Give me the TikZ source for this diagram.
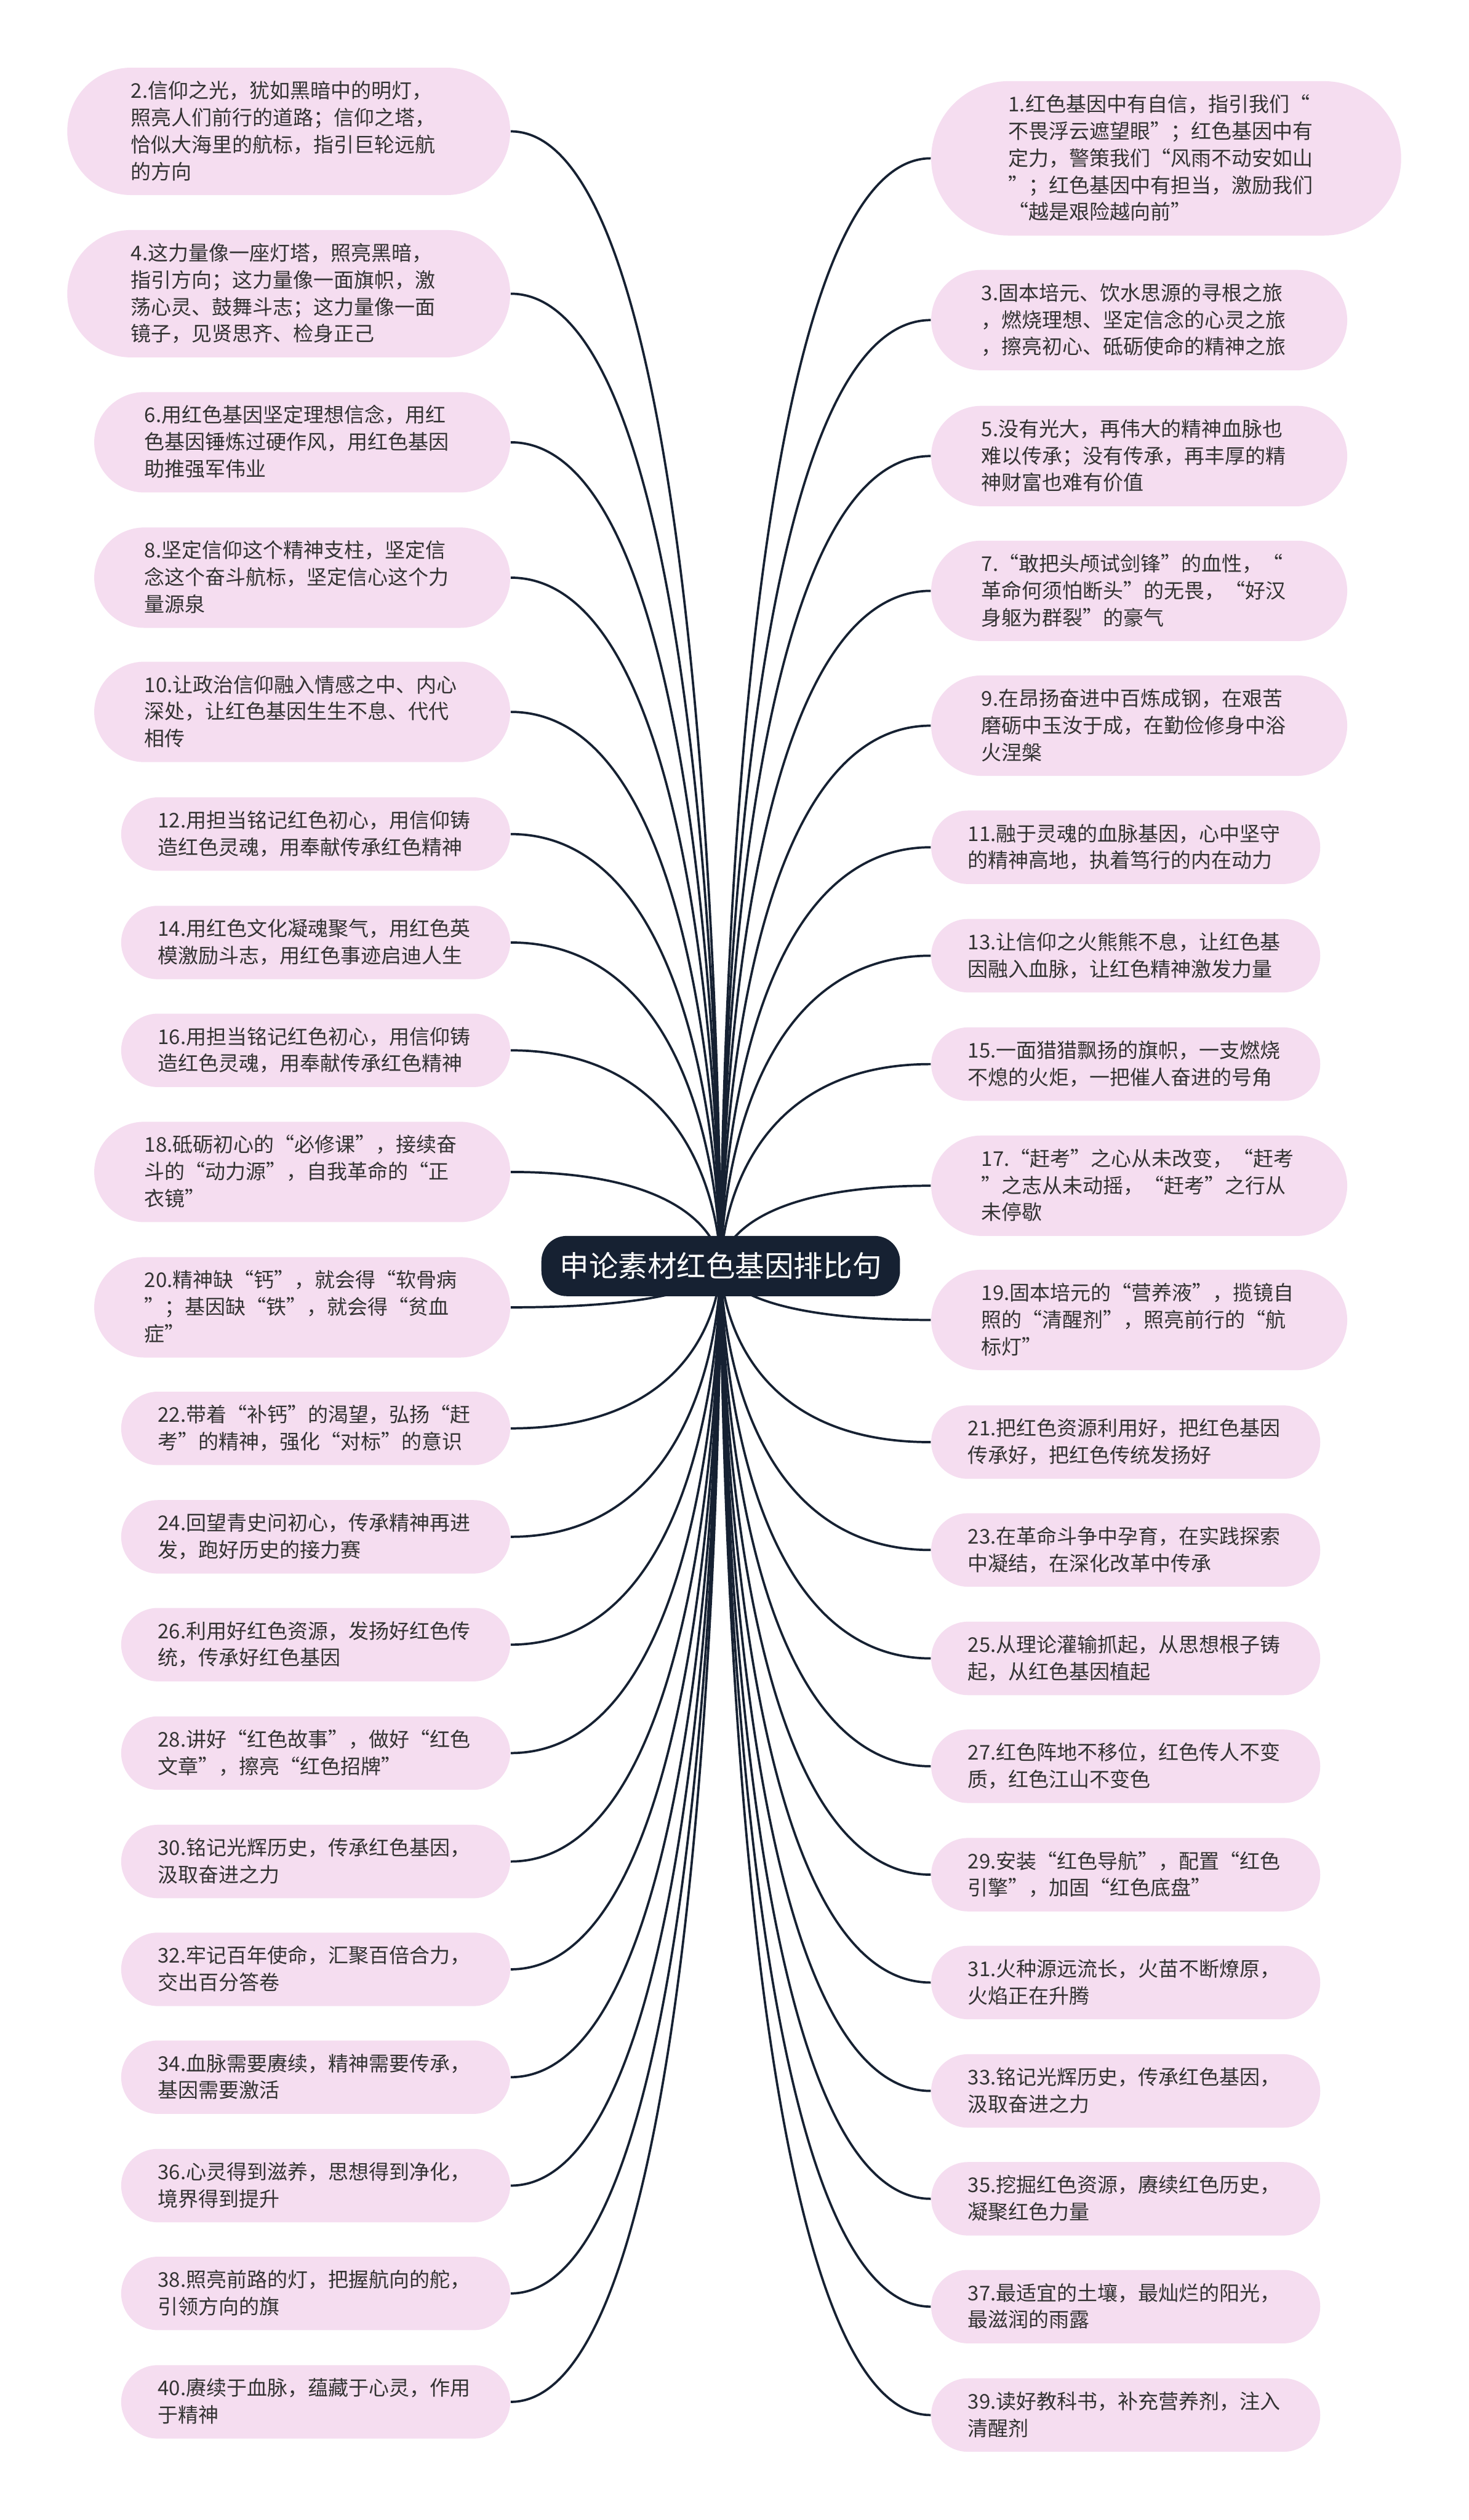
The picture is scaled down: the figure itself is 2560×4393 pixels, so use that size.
\documentclass[tikz,border=0pt]{standalone}
\usepackage{fontspec}
\setmainfont{Noto Sans CJK SC}
\usetikzlibrary{backgrounds}
\definecolor{leafpink}{RGB}{245,221,240}
\definecolor{rootnavy}{RGB}{22,33,50}
\definecolor{leafink}{RGB}{51,51,51}
\newcommand{\leafstrut}{\rule[-2.7pt]{0pt}{11.75pt}}
\tikzset{
  % #1 = half the box height (2 rows 16pt, 3 rows 21.875pt, 4 rows 27.75pt, 5 rows 33.625pt)
  leafbox/.style={rectangle, rounded corners=#1, inner xsep=#1, inner ysep=4.25pt,
    fill=leafpink, text=leafink, text width=137.5pt, align=left,
    font=\fontsize{8.85pt}{11.75pt}\selectfont,
    execute at begin node=\leafstrut, execute at end node=\leafstrut},
  titlebox/.style={rectangle, rounded corners=11pt, fill=rootnavy, text=white,
    minimum width=156.25pt, minimum height=26.25pt, inner sep=0pt,
    font=\fontsize{12.75pt}{15pt}\selectfont},
  branchline/.style={draw=rootnavy, line width=1pt,
    to path={.. controls (\tikztostart) and (\tikztostart |- \tikztotarget) .. (\tikztotarget)}}
}
\begin{document}
\begin{tikzpicture}[x=0.25pt, y=-0.25pt]
        \useasboundingbox (0,0) rectangle (2560,4393);
        % centre topic
        \node[titlebox] (root) at (1256,2207) {申论素材红色基因排比句};
        % left column, even numbers
        \node[leafbox=27.75pt, anchor=east] (s2) at (890,229) {2.信仰之光，犹如黑暗中的明灯，\\照亮人们前行的道路；信仰之塔，\\恰似大海里的航标，指引巨轮远航\\的方向};
        \node[leafbox=27.75pt, anchor=east] (s4) at (890,512) {4.这力量像一座灯塔，照亮黑暗，\\指引方向；这力量像一面旗帜，激\\荡心灵、鼓舞斗志；这力量像一面\\镜子，见贤思齐、检身正己};
        \node[leafbox=21.875pt, anchor=east] (s6) at (890,771) {6.用红色基因坚定理想信念，用红\\色基因锤炼过硬作风，用红色基因\\助推强军伟业};
        \node[leafbox=21.875pt, anchor=east] (s8) at (890,1007) {8.坚定信仰这个精神支柱，坚定信\\念这个奋斗航标，坚定信心这个力\\量源泉};
        \node[leafbox=21.875pt, anchor=east] (s10) at (890,1241) {10.让政治信仰融入情感之中、内心\\深处，让红色基因生生不息、代代\\相传};
        \node[leafbox=16pt, anchor=east] (s12) at (890,1454) {12.用担当铭记红色初心，用信仰铸\\造红色灵魂，用奉献传承红色精神};
        \node[leafbox=16pt, anchor=east] (s14) at (890,1643) {14.用红色文化凝魂聚气，用红色英\\模激励斗志，用红色事迹启迪人生};
        \node[leafbox=16pt, anchor=east] (s16) at (890,1831) {16.用担当铭记红色初心，用信仰铸\\造红色灵魂，用奉献传承红色精神};
        \node[leafbox=21.875pt, anchor=east] (s18) at (890,2043) {18.砥砺初心的“必修课”，接续奋\\斗的“动力源”，自我革命的“正\\衣镜”};
        \node[leafbox=21.875pt, anchor=east] (s20) at (890,2279) {20.精神缺“钙”，就会得“软骨病\\”；基因缺“铁”，就会得“贫血\\症”};
        \node[leafbox=16pt, anchor=east] (s22) at (890,2490) {22.带着“补钙”的渴望，弘扬“赶\\考”的精神，强化“对标”的意识};
        \node[leafbox=16pt, anchor=east] (s24) at (890,2679) {24.回望青史问初心，传承精神再进\\发，跑好历史的接力赛};
        \node[leafbox=16pt, anchor=east] (s26) at (890,2867) {26.利用好红色资源，发扬好红色传\\统，传承好红色基因};
        \node[leafbox=16pt, anchor=east] (s28) at (890,3056) {28.讲好“红色故事”，做好“红色\\文章”，擦亮“红色招牌”};
        \node[leafbox=16pt, anchor=east] (s30) at (890,3245) {30.铭记光辉历史，传承红色基因，\\汲取奋进之力};
        \node[leafbox=16pt, anchor=east] (s32) at (890,3433) {32.牢记百年使命，汇聚百倍合力，\\交出百分答卷};
        \node[leafbox=16pt, anchor=east] (s34) at (890,3621) {34.血脉需要赓续，精神需要传承，\\基因需要激活};
        \node[leafbox=16pt, anchor=east] (s36) at (890,3810) {36.心灵得到滋养，思想得到净化，\\境界得到提升};
        \node[leafbox=16pt, anchor=east] (s38) at (890,3998) {38.照亮前路的灯，把握航向的舵，\\引领方向的旗};
        \node[leafbox=16pt, anchor=east] (s40) at (890,4187) {40.赓续于血脉，蕴藏于心灵，作用\\于精神};
        % right column, odd numbers
        \node[leafbox=33.625pt, anchor=west] (s1) at (1622,276) {1.红色基因中有自信，指引我们“\\不畏浮云遮望眼”；红色基因中有\\定力，警策我们“风雨不动安如山\\”；红色基因中有担当，激励我们\\“越是艰险越向前”};
        \node[leafbox=21.875pt, anchor=west] (s3) at (1622,558) {3.固本培元、饮水思源的寻根之旅\\，燃烧理想、坚定信念的心灵之旅\\，擦亮初心、砥砺使命的精神之旅};
        \node[leafbox=21.875pt, anchor=west] (s5) at (1622,795) {5.没有光大，再伟大的精神血脉也\\难以传承；没有传承，再丰厚的精\\神财富也难有价值};
        \node[leafbox=21.875pt, anchor=west] (s7) at (1622,1030) {7.“敢把头颅试剑锋”的血性，“\\革命何须怕断头”的无畏，“好汉\\身躯为群裂”的豪气};
        \node[leafbox=21.875pt, anchor=west] (s9) at (1622,1265) {9.在昂扬奋进中百炼成钢，在艰苦\\磨砺中玉汝于成，在勤俭修身中浴\\火涅槃};
        \node[leafbox=16pt, anchor=west] (s11) at (1622,1477) {11.融于灵魂的血脉基因，心中坚守\\的精神高地，执着笃行的内在动力};
        \node[leafbox=16pt, anchor=west] (s13) at (1622,1666) {13.让信仰之火熊熊不息，让红色基\\因融入血脉，让红色精神激发力量};
        \node[leafbox=16pt, anchor=west] (s15) at (1622,1855) {15.一面猎猎飘扬的旗帜，一支燃烧\\不熄的火炬，一把催人奋进的号角};
        \node[leafbox=21.875pt, anchor=west] (s17) at (1622,2067) {17.“赶考”之心从未改变，“赶考\\”之志从未动摇，“赶考”之行从\\未停歇};
        \node[leafbox=21.875pt, anchor=west] (s19) at (1622,2301) {19.固本培元的“营养液”，揽镜自\\照的“清醒剂”，照亮前行的“航\\标灯”};
        \node[leafbox=16pt, anchor=west] (s21) at (1622,2514) {21.把红色资源利用好，把红色基因\\传承好，把红色传统发扬好};
        \node[leafbox=16pt, anchor=west] (s23) at (1622,2702) {23.在革命斗争中孕育，在实践探索\\中凝结，在深化改革中传承};
        \node[leafbox=16pt, anchor=west] (s25) at (1622,2891) {25.从理论灌输抓起，从思想根子铸\\起，从红色基因植起};
        \node[leafbox=16pt, anchor=west] (s27) at (1622,3079) {27.红色阵地不移位，红色传人不变\\质，红色江山不变色};
        \node[leafbox=16pt, anchor=west] (s29) at (1622,3268) {29.安装“红色导航”，配置“红色\\引擎”，加固“红色底盘”};
        \node[leafbox=16pt, anchor=west] (s31) at (1622,3456) {31.火种源远流长，火苗不断燎原，\\火焰正在升腾};
        \node[leafbox=16pt, anchor=west] (s33) at (1622,3645) {33.铭记光辉历史，传承红色基因，\\汲取奋进之力};
        \node[leafbox=16pt, anchor=west] (s35) at (1622,3833) {35.挖掘红色资源，赓续红色历史，\\凝聚红色力量};
        \node[leafbox=16pt, anchor=west] (s37) at (1622,4021) {37.最适宜的土壤，最灿烂的阳光，\\最滋润的雨露};
        \node[leafbox=16pt, anchor=west] (s39) at (1622,4210) {39.读好教科书，补充营养剂，注入\\清醒剂};
        % branches run under the boxes
        \begin{scope}[on background layer]
          \fill[white] (0,0) rectangle (2560,4393);
          \foreach \i in {1,3,...,39} \draw[branchline] (root.center) to (s\i.west);
          \foreach \i in {2,4,...,40} \draw[branchline] (root.center) to (s\i.east);
        \end{scope}
\end{tikzpicture}
\end{document}
